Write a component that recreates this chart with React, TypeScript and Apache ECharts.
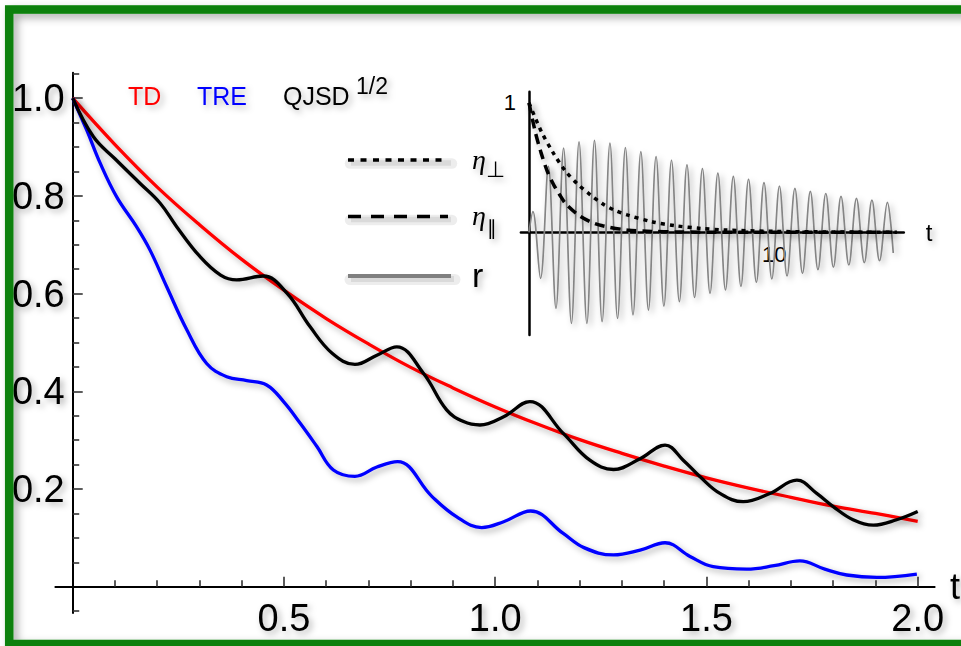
import React, { useEffect, useRef } from "react";
import * as echarts from "echarts";

// ---------- main panel data (t, value) ----------
const tdT = [0, 0.1, 0.2, 0.3, 0.4, 0.5, 0.6, 0.7, 0.8, 0.9, 1.0, 1.1, 1.2, 1.3, 1.4, 1.5, 1.6, 1.7, 1.8, 1.9, 2.0];
const tdV = [1.0, 0.905, 0.818, 0.741, 0.67, 0.607, 0.549, 0.497, 0.449, 0.407, 0.368, 0.333, 0.301, 0.273, 0.247, 0.223, 0.202, 0.183, 0.165, 0.15, 0.134];

const treT = [0, 0.033, 0.065, 0.104, 0.151, 0.183, 0.2225, 0.27, 0.317, 0.3645, 0.412, 0.459, 0.5, 0.538, 0.578, 0.617, 0.668, 0.72, 0.769, 0.85, 0.909, 0.968, 1.02, 1.084, 1.161, 1.21, 1.28, 1.343, 1.402, 1.461, 1.516, 1.595, 1.66, 1.721, 1.78, 1.832, 1.903, 1.998];
const treV = [1.0, 0.935, 0.867, 0.798, 0.737, 0.689, 0.614, 0.526, 0.457, 0.43, 0.422, 0.413, 0.378, 0.335, 0.287, 0.239, 0.226, 0.245, 0.256, 0.185, 0.143, 0.121, 0.133, 0.155, 0.109, 0.08, 0.065, 0.075, 0.09, 0.062, 0.041, 0.036, 0.043, 0.053, 0.036, 0.024, 0.019, 0.026];

const qjsdT = [0, 0.049, 0.1, 0.159, 0.207, 0.246, 0.301, 0.35, 0.388, 0.451, 0.507, 0.562, 0.614, 0.668, 0.72, 0.767, 0.83, 0.885, 0.925, 0.964, 1.02, 1.082, 1.161, 1.224, 1.28, 1.343, 1.402, 1.445, 1.485, 1.532, 1.587, 1.65, 1.714, 1.761, 1.8, 1.847, 1.895, 1.95, 2.0];
const qjsdV = [1.0, 0.921, 0.876, 0.826, 0.785, 0.737, 0.676, 0.638, 0.628, 0.636, 0.601, 0.532, 0.478, 0.455, 0.474, 0.491, 0.437, 0.362, 0.338, 0.331, 0.348, 0.379, 0.314, 0.259, 0.24, 0.262, 0.29, 0.259, 0.225, 0.191, 0.174, 0.191, 0.218, 0.191, 0.164, 0.137, 0.126, 0.137, 0.154];

const xMajor = [0.5, 1.0, 1.5, 2.0];
const xMinor = [0.1, 0.2, 0.3, 0.4, 0.6, 0.7, 0.8, 0.9, 1.1, 1.2, 1.3, 1.4, 1.6, 1.7, 1.8, 1.9];
const yMajor = [0.2, 0.4, 0.6, 0.8, 1.0];
const yMinor = [-0.05, 0.05, 0.1, 0.15, 0.25, 0.3, 0.35, 0.45, 0.5, 0.55, 0.65, 0.7, 0.75, 0.85, 0.9, 0.95, 1.05];

// ---------- inset data ----------
const rT = [0, 0.16, 0.47, 0.79, 1.10, 1.41, 1.73, 2.04, 2.36, 2.67, 2.98, 3.30, 3.61, 3.93, 4.24, 4.56, 4.87, 5.18, 5.50, 5.81, 6.13, 6.44, 6.75, 7.07, 7.38, 7.70, 8.01, 8.33, 8.64, 8.95, 9.27, 9.58, 9.90, 10.21, 10.52, 10.84, 11.15, 11.47, 11.78, 12.10, 12.41, 12.72, 13.04, 13.35, 13.67, 13.98, 14.29, 14.61, 14.85];
const rV = [0, 0.16, -0.356, 0.51, -0.588, 0.65, -0.704, 0.70, -0.704, 0.71, -0.691, 0.69, -0.665, 0.655, -0.639, 0.624, -0.601, 0.586, -0.57, 0.557, -0.536, 0.521, -0.504, 0.492, -0.472, 0.458, -0.446, 0.433, -0.418, 0.41, -0.386, 0.384, -0.36, 0.358, -0.338, 0.339, -0.317, 0.316, -0.288, 0.3, -0.27, 0.278, -0.253, 0.263, -0.235, 0.248, -0.22, 0.232, -0.16];

const etaParT = [0, 0.25, 0.5, 0.75, 1, 1.25, 1.5, 2, 2.5, 3, 4, 5, 6, 8, 10, 12, 15];
const etaParV = [1, 0.78, 0.61, 0.47, 0.37, 0.29, 0.22, 0.135, 0.082, 0.05, 0.018, 0.007, 0.003, 0, 0, 0, 0];
const etaPerpT = [0, 0.5, 1, 1.5, 2, 2.5, 3, 3.5, 4, 5, 6, 7, 8, 10, 12, 15];
const etaPerpV = [1, 0.78, 0.61, 0.47, 0.37, 0.29, 0.22, 0.17, 0.135, 0.082, 0.05, 0.03, 0.018, 0.007, 0.003, 0];

// axis ranges
const mainX = { min: -0.041, max: 2.04 };
const mainY = { min: -0.054, max: 1.052 };
const insetX = { min: -0.33, max: 15.28 };
const insetY = { min: -0.794, max: 1.087 };

const FONT = '"Liberation Sans", Arial, Helvetica, sans-serif';
const SERIF = '"Liberation Serif", "Times New Roman", serif';
const SYM = '"DejaVu Sans", sans-serif';
const SH = { shadowColor: "rgba(0,0,0,0.33)", shadowBlur: 6, shadowOffsetX: 3, shadowOffsetY: 3 };
const TSH = { textShadowColor: "rgba(0,0,0,0.3)", textShadowBlur: 6, textShadowOffsetX: 3, textShadowOffsetY: 3 };

const pairs = (t: number[], v: number[]) => t.map((x, i) => [x, v[i]]);

// grid boxes (pixels)
const G0 = { left: 55.4, top: 72.8, width: 879.2, height: 540.3 };
const G1 = { left: 520.9, top: 91.7, width: 382.9, height: 243.3 };
// offsets that put each axis line on the other axis' zero
const zeroOffX = (g: any, r: any) => -((0 - r.min) / (r.max - r.min)) * g.height;
const zeroOffY = (g: any, r: any) => -((0 - r.min) / (r.max - r.min)) * g.width;

function buildOption(): any {
  const lineSeries = (name: string, t: number[], v: number[], color: string, width: number, xi: number, extra: any = {}) => ({
    type: "line",
    name,
    xAxisIndex: xi,
    yAxisIndex: xi,
    data: pairs(t, v),
    showSymbol: false,
    silent: true,
    smooth: extra.smooth ?? 0.4,
    lineStyle: { color, width, type: extra.dash ?? "solid", cap: "butt", ...SH },
    z: extra.z ?? 3,
  });

  const tick = (vals: number[], len: number, w = 1.6) => ({
    show: true,
    inside: true,
    length: len,
    customValues: vals,
    lineStyle: { color: "#333", width: w },
  });

  const legendText = (text: string, x: number, y: number, color: string, size: number, extra: any = {}) => ({
    type: "text",
    x,
    y,
    silent: true,
    z: 20,
    style: {
      text,
      fill: color,
      fontSize: size,
      fontFamily: extra.family ?? FONT,
      fontStyle: extra.italic ? "italic" : "normal",
      align: "left",
      verticalAlign: "middle",
      ...TSH,
      shadowColor: "rgba(0,0,0,0.3)",
      shadowBlur: 6,
      shadowOffsetX: 3,
      shadowOffsetY: 3,
    },
  });

  // horizontal legend line + a soft faux shadow band (svg filters vanish on zero-height boxes)
  const legendLine = (x1: number, x2: number, y: number, color: string, width: number, dash: any) => [
    {
      type: "line", silent: true, z: 18,
      shape: { x1: x1 + 2, y1: y + 3.5, x2: x2 + 4, y2: y + 3.5 },
      style: { stroke: "rgba(0,0,0,0.07)", lineWidth: width + 7, lineCap: "round" },
    },
    {
      type: "line", silent: true, z: 19,
      shape: { x1: x1 + 3, y1: y + 3, x2: x2 + 3, y2: y + 3 },
      style: { stroke: "rgba(0,0,0,0.08)", lineWidth: width + 2, lineCap: "butt" },
    },
    {
      type: "line", silent: true, z: 20,
      shape: { x1, y1: y, x2, y2: y },
      style: { stroke: color, lineWidth: width, lineDash: dash, lineCap: "butt" },
    },
  ];

  return {
    animation: false,
    backgroundColor: "#ffffff",
    grid: [
      { ...G0, containLabel: false, outerBoundsMode: "none" },
      { ...G1, containLabel: false, outerBoundsMode: "none" },
    ],
    xAxis: [
      {
        gridIndex: 0, type: "value", ...mainX, position: "bottom", offset: zeroOffX(G0, mainY),
        axisLine: { show: true, onZero: false, lineStyle: { color: "#000", width: 2 } },
        axisTick: tick(xMajor, 10),
        axisLabel: {
          show: true, customValues: xMajor, formatter: (v: number) => v.toFixed(1),
          fontSize: 38, color: "#000", fontFamily: FONT, margin: 12, ...TSH,
        },
        splitLine: { show: false },
        name: "t", nameLocation: "end", nameGap: 14,
        nameTextStyle: { fontSize: 36, color: "#000", fontFamily: FONT, ...TSH },
      },
      {
        gridIndex: 0, type: "value", ...mainX, position: "bottom", offset: zeroOffX(G0, mainY),
        axisLine: { show: false, onZero: false },
        axisTick: tick(xMinor, 6.5),
        axisLabel: { show: false },
        splitLine: { show: false },
      },
      {
        gridIndex: 1, type: "value", ...insetX, position: "bottom", offset: zeroOffX(G1, insetY),
        axisLine: { show: true, onZero: false, lineStyle: { color: "#000", width: 2.5 } },
        axisTick: { show: false },
        axisLabel: {
          show: true, customValues: [10], formatter: (v: number) => String(v),
          fontSize: 22, color: "#000", fontFamily: FONT, margin: 11,
        },
        splitLine: { show: false },
        name: "t", nameLocation: "end", nameGap: 22,
        nameTextStyle: { fontSize: 24, color: "#000", fontFamily: FONT, ...TSH },
      },
    ],
    yAxis: [
      {
        gridIndex: 0, type: "value", ...mainY, position: "left", offset: zeroOffY(G0, mainX),
        axisLine: { show: true, onZero: false, lineStyle: { color: "#000", width: 2 } },
        axisTick: tick(yMajor, 10),
        axisLabel: {
          show: true, customValues: yMajor, formatter: (v: number) => v.toFixed(1),
          fontSize: 38, color: "#000", fontFamily: FONT, margin: 8, ...TSH,
        },
        splitLine: { show: false },
      },
      {
        gridIndex: 0, type: "value", ...mainY, position: "left", offset: zeroOffY(G0, mainX),
        axisLine: { show: false, onZero: false },
        axisTick: tick(yMinor, 6.5),
        axisLabel: { show: false },
        splitLine: { show: false },
      },
      {
        gridIndex: 1, type: "value", ...insetY, position: "left", offset: zeroOffY(G1, insetX),
        axisLine: { show: true, onZero: false, lineStyle: { color: "#000", width: 2.5 } },
        axisTick: { show: false },
        axisLabel: {
          show: true, customValues: [1], formatter: () => "1",
          fontSize: 22, color: "#000", fontFamily: FONT, margin: 13,
        },
        splitLine: { show: false },
      },
    ],
    series: [
      lineSeries("TD", tdT, tdV, "#ff0000", 3.3, 0, { z: 3 }),
      lineSeries("TRE", treT, treV, "#0000ff", 3.3, 0, { z: 4 }),
      lineSeries("QJSD", qjsdT, qjsdV, "#000000", 3.3, 0, { z: 5 }),
      lineSeries("r", rT, rV, "#858585", 1.7, 2, { z: 6, smooth: 0.35 }),
      lineSeries("eta_par", etaParT, etaParV, "#000000", 3.5, 2, { z: 7, smooth: 0.3, dash: [10, 6] }),
      lineSeries("eta_perp", etaPerpT, etaPerpV, "#000000", 3.5, 2, { z: 8, smooth: 0.3, dash: [4, 5] }),
    ],
    graphic: [
      {
        type: "rect", silent: true, z: 50,
        shape: { x: 9.2, y: 9.6, width: 962, height: 634.4 },
        style: { fill: "none", stroke: "#088008", lineWidth: 8.5, ...SH, shadowOffsetX: 4, shadowOffsetY: 4, shadowBlur: 8 },
      },
      legendText("TD", 128, 96, "#ff0000", 25),
      legendText("TRE", 197, 96, "#0000ff", 25),
      legendText("QJSD", 283, 96, "#000000", 25),
      legendText("1/2", 356, 86, "#000000", 23),
      ...legendLine(348, 448, 160, "#000000", 3.5, [6, 6.5]),
      ...legendLine(348, 448, 216.5, "#000000", 3.5, [13, 10]),
      ...legendLine(348, 451, 276, "#808080", 4, null),
      legendText("η", 472, 159, "#000000", 28, { family: SERIF, italic: true }),
      legendText("⊥", 486, 169, "#000000", 22, { family: SYM }),
      legendText("η", 472, 215, "#000000", 28, { family: SERIF, italic: true }),
      legendText("∥", 487, 228, "#000000", 20, { family: SYM }),
      legendText("r", 472, 275, "#000000", 34),
    ],
  };
}

export default function App() {
  const ref = useRef<HTMLDivElement>(null);
  useEffect(() => {
    if (!ref.current) return;
    const chart = echarts.init(ref.current, null, { renderer: "svg" });
    chart.setOption(buildOption());
    return () => chart.dispose();
  }, []);
  return (
    <div
      ref={ref}
      style={{ position: "absolute", left: 0, top: 0, width: 961, height: 646, background: "#fff" }}
    />
  );
}
